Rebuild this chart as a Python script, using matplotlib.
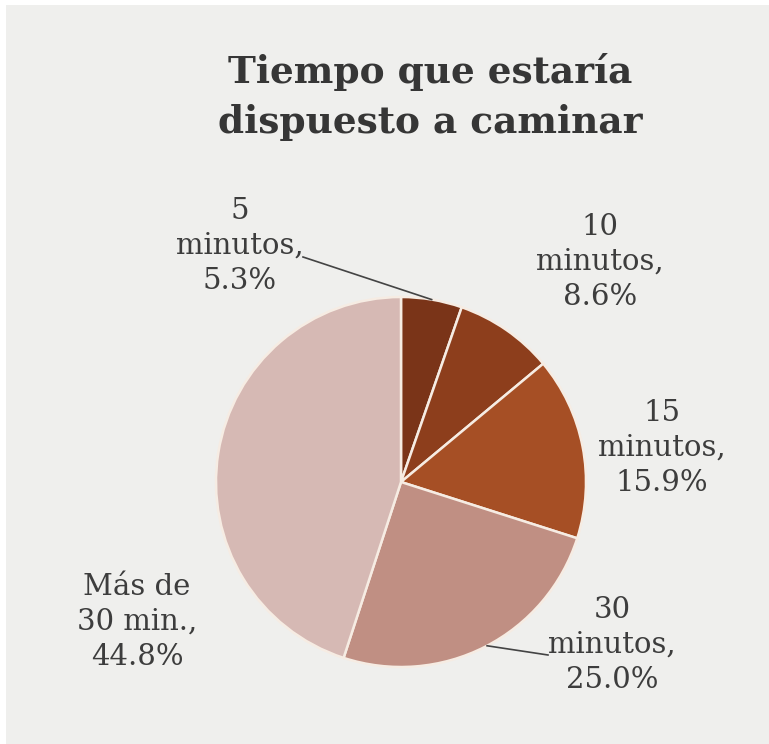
import numpy as np
import matplotlib
matplotlib.use("Agg")
import matplotlib.pyplot as plt
from matplotlib.patches import Rectangle

# Survey answers: how long people would be willing to walk
categories = ["5\nminutos", "10\nminutos", "15\nminutos", "30\nminutos", "Más de\n30 min."]
shares = [5.3, 8.6, 15.9, 25.0, 44.8]
colors = ["#7a3418", "#8d3e1c", "#a64f25", "#c08f83", "#d6b9b4"]
title_lines = ["Tiempo que estaría", "dispuesto a caminar"]

W, H = 769, 744
fig = plt.figure(figsize=(W / 100, H / 100), dpi=100)
fig.patch.set_facecolor("white")
fig.patches.append(Rectangle((6 / W, 0), 1 - 6 / W, 1 - 5 / H, transform=fig.transFigure,
                             facecolor="#efefed", edgecolor="none", zorder=-10))

ax = fig.add_axes([0, 0, 1, 1])
ax.set_facecolor("none")
ax.set_zorder(5)

cx, cy, r = 401, H - 482, 185
wedges, _ = ax.pie(shares, colors=colors, startangle=90, counterclock=False,
                   center=(cx, cy), radius=r, frame=False,
                   wedgeprops=dict(edgecolor="#f6ece3", linewidth=1.8))
ax.set_xlim(0, W)
ax.set_ylim(0, H)
ax.set_aspect("equal")
ax.axis("off")

serif = ["DejaVu Serif"]
txt_color = "#3d3d3d"

for i, line in enumerate(title_lines):
    ax.text(430, H - 83 - 50 * i, line, ha="center", va="baseline",
            fontsize=27, fontweight="bold", family=serif, color="#363636")

# label centres (x, y from top)
label_pos = [(240, 246), (600, 262), (662, 448), (612, 645), (137, 622)]
for cat, val, (lx, ly) in zip(categories, shares, label_pos):
    ax.text(lx, H - ly, f"{cat},\n{val:.1f}%", ha="center", va="center",
            multialignment="center", fontsize=21, family=serif, color=txt_color,
            linespacing=1.32)

# leader lines from slice mid-arcs to their labels
cum = np.cumsum([0] + shares)
def arc_mid(i):
    ang = np.deg2rad(90 - 360 * (cum[i] + shares[i] / 2) / 100)
    return cx + r * np.cos(ang), cy + r * np.sin(ang)

x0, y0 = arc_mid(0)
ax.plot([303, x0], [H - 257, y0], color="#444444", lw=1.2)
x3, y3 = arc_mid(3)
ax.plot([x3, 548], [y3, H - 655], color="#444444", lw=1.2)

fig.savefig("out.png", dpi=100, facecolor=fig.get_facecolor())
